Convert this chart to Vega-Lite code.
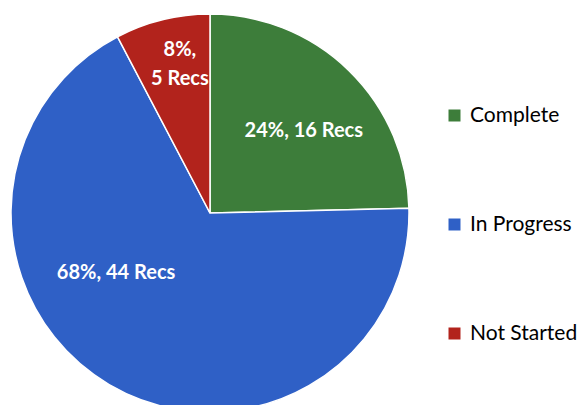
{
  "$schema": "https://vega.github.io/schema/vega-lite/v6.json",
  "width": 420,
  "height": 426,
  "padding": 0,
  "background": "white",
  "config": {"view": {"stroke": null}, "font": "Lato"},
  "data": {
    "values": [
      {"status": "Complete", "recs": 16, "label": "24%, 16 Recs"},
      {"status": "In Progress", "recs": 44, "label": "68%, 44 Recs"},
      {"status": "Not Started", "recs": 5, "label": "8%,\n5 Recs"}
    ]
  },
  "encoding": {
    "theta": {"field": "recs", "type": "quantitative", "stack": true},
    "color": {
      "field": "status",
      "type": "nominal",
      "scale": {
        "domain": ["Complete", "In Progress", "Not Started"],
        "range": ["#3d7d3a", "#2f60c6", "#b2231c"]
      },
      "legend": {
        "title": null,
        "orient": "none",
        "legendX": 444,
        "legendY": 105,
        "symbolType": "square",
        "symbolSize": 144,
        "symbolStrokeWidth": 0,
        "labelFontSize": 21,
        "labelFont": "Lato",
        "labelColor": "#000000",
        "labelOffset": 5,
        "labelLimit": 200,
        "rowPadding": 87
      }
    }
  },
  "layer": [
    {
      "mark": {"type": "arc", "outerRadius": 199, "stroke": "white", "strokeWidth": 1.5}
    },
    {
      "mark": {
        "type": "text",
        "radius": 130,
        "fontSize": 20,
        "fontWeight": "bold",
        "font": "Lato",
        "lineBreak": "\n",
        "lineHeight": 29,
        "align": "center",
        "baseline": "middle",
        "dx": {"expr": "datum.status == 'In Progress' ? -28 : datum.status == 'Complete' ? 3 : 1"},
        "dy": {"expr": "datum.status == 'In Progress' ? -52 : datum.status == 'Complete' ? 11 : -37"}
      },
      "encoding": {
        "color": {"value": "white"},
        "detail": {"field": "status", "type": "nominal"},
        "text": {"field": "label", "type": "nominal"}
      }
    }
  ]
}
